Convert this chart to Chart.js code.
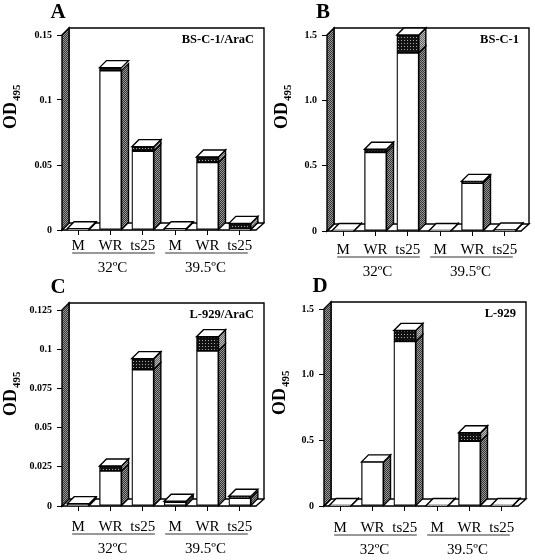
<!DOCTYPE html>
<html>
<head>
<meta charset="utf-8">
<style>
    html, body { margin: 0; padding: 0; background: #fff; }
    #page { position: relative; width: 535px; height: 560px; overflow: hidden; }
    #page div { position: absolute; }
</style>
<script src="https://cdn.jsdelivr.net/npm/chart.js@4/dist/chart.umd.js"></script>
</head>
<body>
<div id="page"></div>
<script>
const categories = ['M', 'WR', 'ts25', 'M', 'WR', 'ts25'];
const temperatures = ['32ºC', '39.5ºC'];

const whiteA = [0.0005, 0.1226, 0.0608, 0.0005, 0.052, 0.0005];
const darkA = [0.0005, 0.0023, 0.0033, 0.0005, 0.0042, 0.0046];
const ticksA = [0, 0.05, 0.1, 0.15];
const tickLabelsA = ['0', '0.05', '0.1', '0.15'];

const whiteB = [0.003, 0.603, 1.364, 0.003, 0.368, 0.006];
const darkB = [0.001, 0.023, 0.136, 0.001, 0.012, 0.002];
const ticksB = [0, 0.5, 1, 1.5];
const tickLabelsB = ['0', '0.5', '1.0', '1.5'];

const whiteC = [0.0008, 0.0224, 0.087, 0.0025, 0.099, 0.0051];
const darkC = [0.0007, 0.0031, 0.007, 0.0005, 0.009, 0.0011];
const ticksC = [0, 0.025, 0.05, 0.075, 0.1, 0.125];
const tickLabelsC = ['0', '0.025', '0.05', '0.075', '0.1', '0.125'];

const whiteD = [0.003, 0.336, 1.255, 0.003, 0.494, 0.003];
const darkD = [0.001, 0, 0.082, 0.001, 0.064, 0.001];
const ticksD = [0, 0.5, 1, 1.5];
const tickLabelsD = ['0', '0.5', '1.0', '1.5'];

const SERIF = '"Liberation Serif", "Times New Roman", serif';
const DEPTH = 7;

function makePattern(size, paint) {
    const tile = document.createElement('canvas');
    tile.width = size;
    tile.height = size;
    const g = tile.getContext('2d');
    paint(g);
    return g.createPattern(tile, 'repeat');
}

// wall and bar sides: dark checker stipple
const wallPattern = makePattern(2, function (g) {
    g.fillStyle = '#333';
    g.fillRect(0, 0, 2, 2);
    g.fillStyle = '#999';
    g.fillRect(0, 0, 1, 1);
    g.fillRect(1, 1, 1, 1);
});
// side of the dark cap, a bit lighter
const capSidePattern = makePattern(2, function (g) {
    g.fillStyle = '#666';
    g.fillRect(0, 0, 2, 2);
    g.fillStyle = '#bbb';
    g.fillRect(0, 0, 1, 1);
    g.fillRect(1, 1, 1, 1);
});
// front of the dark cap: black with light dots
const capPattern = makePattern(3, function (g) {
    g.fillStyle = '#111';
    g.fillRect(0, 0, 3, 3);
    g.fillStyle = '#aaa';
    g.fillRect(1, 1, 1, 1);
});

function poly(ctx, points, fill) {
    ctx.beginPath();
    points.forEach(function (p, i) {
        if (i === 0) {
            ctx.moveTo(p[0], p[1]);
        } else {
            ctx.lineTo(p[0], p[1]);
        }
    });
    ctx.closePath();
    ctx.fillStyle = fill;
    ctx.fill();
    ctx.stroke();
}

const box3d = {
    id: 'box3d',
    beforeDatasetsDraw: function (chart) {
        const ctx = chart.ctx;
        const a = chart.chartArea;
        ctx.save();
        ctx.strokeStyle = '#000';
        ctx.lineWidth = 1.4;

        // back wall
        ctx.beginPath();
        ctx.moveTo(a.left + DEPTH, a.bottom - DEPTH);
        ctx.lineTo(a.left + DEPTH, a.top - DEPTH);
        ctx.lineTo(a.right + DEPTH + 1, a.top - DEPTH);
        ctx.lineTo(a.right + DEPTH + 1, a.bottom - DEPTH);
        ctx.stroke();

        // floor
        poly(ctx, [
            [a.left, a.bottom], [a.left + DEPTH, a.bottom - DEPTH],
            [a.right + DEPTH + 1, a.bottom - DEPTH], [a.right, a.bottom]
        ], '#fff');

        // left wall
        poly(ctx, [
            [a.left, a.top], [a.left + DEPTH, a.top - DEPTH],
            [a.left + DEPTH, a.bottom - DEPTH], [a.left, a.bottom]
        ], wallPattern);

        // sides and tops of the bars
        const whites = chart.getDatasetMeta(0).data;
        const darks = chart.getDatasetMeta(1).data;
        whites.forEach(function (bar, i) {
            const cap = darks[i];
            const right = bar.x + bar.width / 2;
            const left = bar.x - bar.width / 2;
            poly(ctx, [
                [right, bar.base], [right + DEPTH, bar.base - DEPTH],
                [right + DEPTH, bar.y - DEPTH], [right, bar.y]
            ], wallPattern);
            if (cap.base - cap.y > 3) {
                poly(ctx, [
                    [right, bar.y], [right + DEPTH, bar.y - DEPTH],
                    [right + DEPTH, cap.y - DEPTH], [right, cap.y]
                ], capSidePattern);
            }
            poly(ctx, [
                [left, cap.y], [left + DEPTH, cap.y - DEPTH],
                [right + DEPTH, cap.y - DEPTH], [right, cap.y]
            ], '#fff');
        });
        ctx.restore();
    },
    afterDraw: function (chart, args, opts) {
        const ctx = chart.ctx;
        const a = chart.chartArea;
        const x = chart.scales.x;
        const underY = a.bottom + 23 + opts.drop;
        const tempY = a.bottom + 38 + opts.drop;
        ctx.save();
        ctx.fillStyle = '#000';
        ctx.strokeStyle = '#333';
        ctx.lineWidth = 1;
        ctx.textBaseline = 'middle';

        // panel letter
        ctx.textAlign = 'center';
        ctx.font = 'bold 21px ' + SERIF;
        ctx.fillText(opts.letter, a.left - 4, a.top - 22);

        // cell line name
        ctx.textAlign = 'right';
        ctx.font = 'bold 12.5px ' + SERIF;
        ctx.fillText(opts.cells, a.left + 192, a.top + 5);

        // temperature groups
        ctx.beginPath();
        ctx.moveTo(x.getPixelForTick(0) - 6, underY);
        ctx.lineTo(x.getPixelForTick(2) + 12, underY);
        ctx.moveTo(x.getPixelForTick(3) - 10, underY);
        ctx.lineTo(x.getPixelForTick(5) + 8, underY);
        ctx.stroke();
        ctx.textAlign = 'center';
        ctx.font = '15px ' + SERIF;
        ctx.fillText(temperatures[0], x.getPixelForTick(1) + 2, tempY);
        ctx.fillText(temperatures[1], x.getPixelForTick(4) - 2, tempY);

        // y title with subscript
        ctx.translate(opts.titleX, opts.titleY);
        ctx.rotate(-Math.PI / 2);
        ctx.textBaseline = 'alphabetic';
        ctx.textAlign = 'left';
        ctx.font = 'bold 18px ' + SERIF;
        ctx.fillText('OD', -21, 0);
        const w = ctx.measureText('OD').width;
        ctx.font = 'bold 11px ' + SERIF;
        ctx.fillText('495', w - 20, 4);
        ctx.restore();
    }
};

function drawPanel(cfg) {
    const box = document.createElement('div');
    box.style.left = cfg.left + 'px';
    box.style.top = cfg.top + 'px';
    box.style.width = cfg.width + 'px';
    box.style.height = cfg.height + 'px';
    const canvas = document.createElement('canvas');
    canvas.width = cfg.width;
    canvas.height = cfg.height;
    box.appendChild(canvas);
    document.getElementById('page').appendChild(box);

    new Chart(canvas, {
        type: 'bar',
        data: {
            labels: categories,
            datasets: [
                { label: 'OD495', data: cfg.white, backgroundColor: '#fff' },
                { label: 'SD', data: cfg.dark, backgroundColor: capPattern }
            ]
        },
        options: {
            responsive: false,
            maintainAspectRatio: false,
            animation: false,
            devicePixelRatio: 1,
            layout: {
                padding: { top: cfg.plotTop, bottom: 0, left: 0, right: cfg.width - cfg.axisX - 194 }
            },
            datasets: {
                bar: {
                    barThickness: 22,
                    borderColor: '#000',
                    borderWidth: 1.3,
                    borderSkipped: false
                }
            },
            plugins: {
                legend: { display: false },
                tooltip: { enabled: false },
                box3d: {
                    letter: cfg.letter,
                    cells: cfg.cells,
                    drop: cfg.drop,
                    titleX: cfg.titleX,
                    titleY: cfg.titleY
                }
            },
            scales: {
                x: {
                    stacked: true,
                    afterFit: function (scale) { scale.height = cfg.height - cfg.plotTop - cfg.plotHeight; },
                    border: { color: '#000', width: 1.3 },
                    grid: {
                        offset: false,
                        drawOnChartArea: false,
                        tickColor: '#000',
                        tickLength: 5,
                        tickWidth: 1
                    },
                    ticks: {
                        autoSkip: false,
                        maxRotation: 0,
                        color: '#000',
                        padding: 2 + cfg.drop,
                        font: { family: SERIF, size: 15 }
                    }
                },
                y: {
                    stacked: true,
                    min: 0,
                    max: cfg.ticks[cfg.ticks.length - 1],
                    afterFit: function (scale) { scale.width = cfg.axisX; },
                    afterBuildTicks: function (scale) {
                        scale.ticks = cfg.ticks.map(function (v) { return { value: v }; });
                    },
                    border: { display: false },
                    grid: {
                        drawOnChartArea: false,
                        tickColor: '#000',
                        tickLength: 5,
                        tickWidth: 1
                    },
                    ticks: {
                        autoSkip: false,
                        color: '#000',
                        padding: 5,
                        font: { family: SERIF, size: 10, weight: 'bold' },
                        callback: function (value, index) { return cfg.tickLabels[index]; }
                    }
                }
            }
        },
        plugins: [box3d]
    });
}

drawPanel({
    letter: 'A', cells: 'BS-C-1/AraC', white: whiteA, dark: darkA, ticks: ticksA, tickLabels: tickLabelsA,
    left: 0, top: 0, width: 265, height: 280, axisX: 62, plotTop: 35, plotHeight: 195, drop: 0, titleX: 16, titleY: 108
});
drawPanel({
    letter: 'B', cells: 'BS-C-1', white: whiteB, dark: darkB, ticks: ticksB, tickLabels: tickLabelsB,
    left: 265, top: 0, width: 270, height: 280, axisX: 62, plotTop: 35, plotHeight: 196, drop: 3, titleX: 22, titleY: 108
});
drawPanel({
    letter: 'C', cells: 'L-929/AraC', white: whiteC, dark: darkC, ticks: ticksC, tickLabels: tickLabelsC,
    left: 0, top: 270, width: 265, height: 290, axisX: 62, plotTop: 40, plotHeight: 196, drop: 5, titleX: 16, titleY: 125
});
drawPanel({
    letter: 'D', cells: 'L-929', white: whiteD, dark: darkD, ticks: ticksD, tickLabels: tickLabelsD,
    left: 265, top: 270, width: 270, height: 290, axisX: 59, plotTop: 39, plotHeight: 197, drop: 6, titleX: 20, titleY: 124
});
</script>
</body>
</html>
